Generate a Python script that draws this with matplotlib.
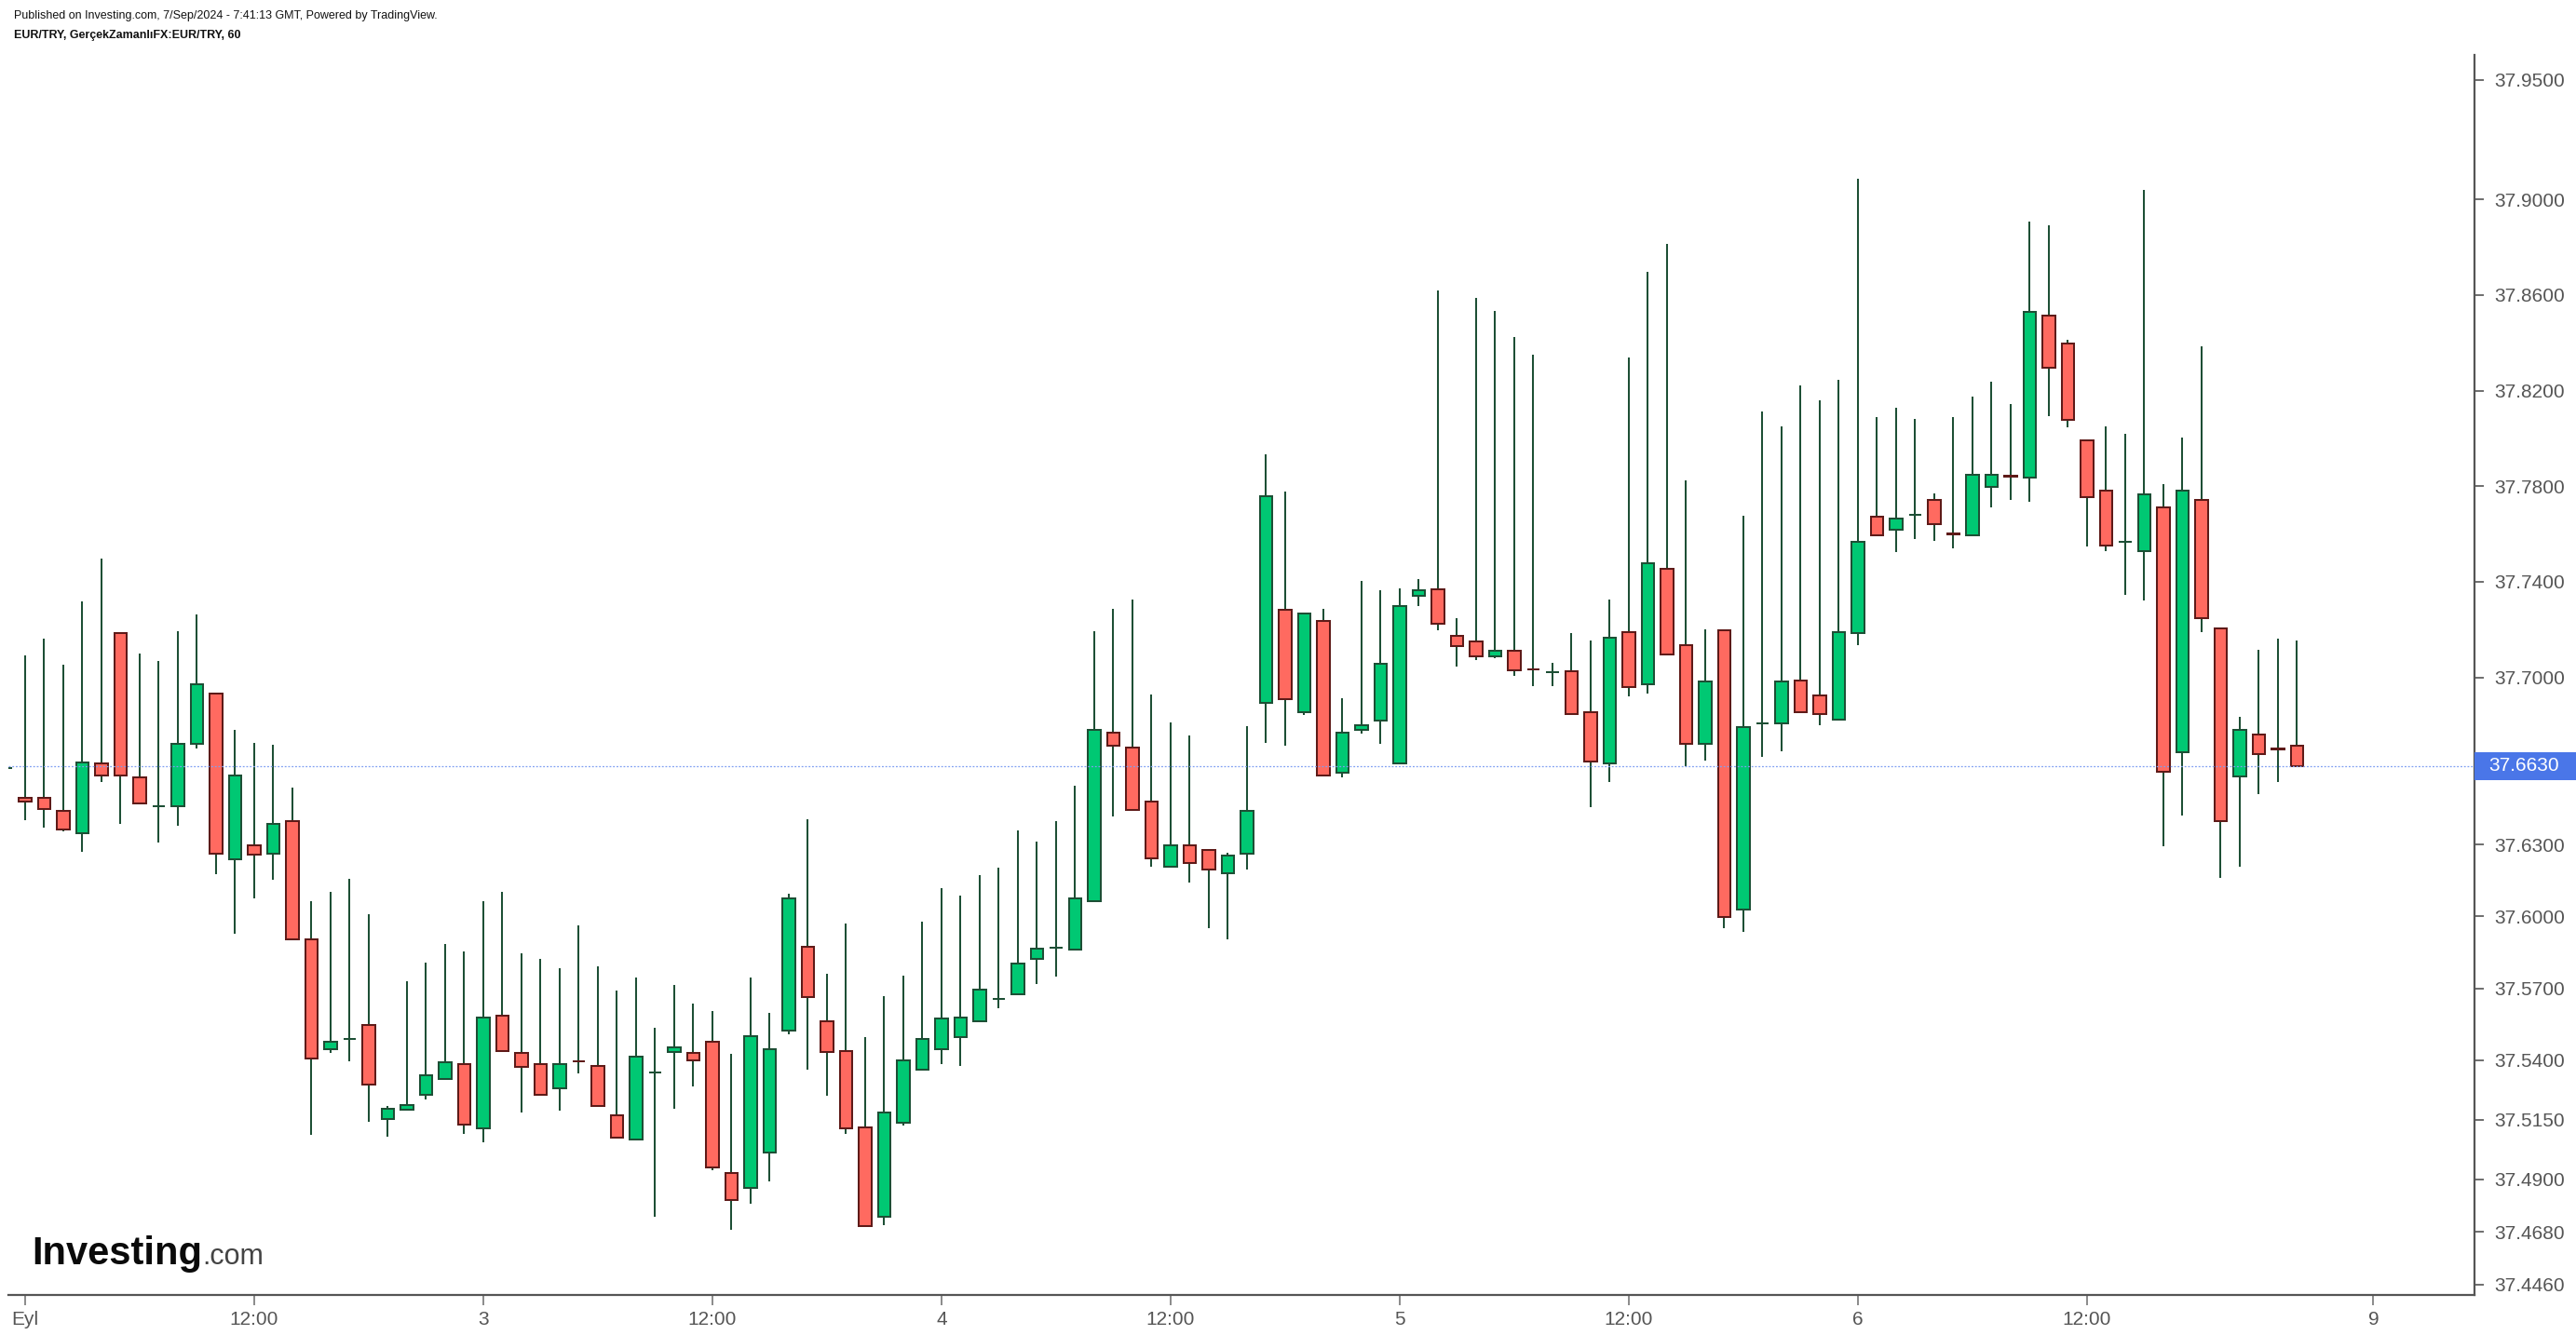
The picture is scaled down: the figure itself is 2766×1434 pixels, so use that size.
import numpy as np
import matplotlib.pyplot as plt
from matplotlib.patches import Rectangle
from matplotlib.transforms import blended_transform_factory

# EUR/TRY hourly candles, 2-6 Sep 2024 (first value is the clipped candle at the left edge)
opens = [
    37.6620,
    37.6496, 37.6496, 37.6442, 37.6350, 37.6639, 37.7184, 37.6582, 37.6463, 37.6463, 37.6722,
    37.6934, 37.6240, 37.6296, 37.6263, 37.6398, 37.5906, 37.5447, 37.5489, 37.5548, 37.5152,
    37.5191, 37.5253, 37.5322, 37.5384, 37.5113, 37.5587, 37.5429, 37.5384, 37.5283, 37.5396,
    37.5375, 37.5167, 37.5066, 37.5346, 37.5432, 37.5429, 37.5477, 37.4926, 37.4863, 37.5012,
    37.5524, 37.5873, 37.5563, 37.5438, 37.5119, 37.4744, 37.5137, 37.5361, 37.5447, 37.5495,
    37.5563, 37.5656, 37.5673, 37.5822, 37.5870, 37.5861, 37.6064, 37.6770, 37.6707, 37.6481,
    37.6210, 37.6296, 37.6278, 37.6180, 37.6263, 37.6895, 37.7283, 37.6856, 37.7238, 37.6600,
    37.6779, 37.6818, 37.6639, 37.7342, 37.7369, 37.7175, 37.7151, 37.7089, 37.7113, 37.7035,
    37.7023, 37.7026, 37.6856, 37.6639, 37.7190, 37.6973, 37.7455, 37.7137, 37.6722, 37.7199,
    37.6028, 37.6809, 37.6809, 37.6988, 37.6925, 37.6824, 37.7184, 37.7673, 37.7619, 37.7679,
    37.7744, 37.7601, 37.7595, 37.7798, 37.7843, 37.7837, 37.8513, 37.8397, 37.7992, 37.7783,
    37.7569, 37.7527, 37.7712, 37.6687, 37.7744, 37.7205, 37.6585, 37.6761, 37.6702, 37.6716,
]
highs = [
    37.6620,
    37.7092, 37.7163, 37.7053, 37.7318, 37.7497, 37.7184, 37.7101, 37.7068, 37.7193, 37.7265,
    37.6934, 37.6782, 37.6725, 37.6719, 37.6541, 37.6064, 37.6103, 37.6159, 37.6010, 37.5209,
    37.5730, 37.5808, 37.5885, 37.5855, 37.6064, 37.6103, 37.5846, 37.5822, 37.5784, 37.5963,
    37.5793, 37.5691, 37.5745, 37.5533, 37.5715, 37.5635, 37.5605, 37.5426, 37.5745, 37.5596,
    37.6097, 37.6407, 37.5760, 37.5971, 37.5495, 37.5668, 37.5754, 37.5977, 37.6117, 37.6088,
    37.6174, 37.6204, 37.6359, 37.6314, 37.6401, 37.6547, 37.7193, 37.7286, 37.7327, 37.6928,
    37.6812, 37.6758, 37.6278, 37.6266, 37.6797, 37.7932, 37.7777, 37.7268, 37.7286, 37.6913,
    37.7405, 37.7366, 37.7372, 37.7411, 37.8618, 37.7247, 37.8588, 37.8534, 37.8424, 37.8352,
    37.7062, 37.7184, 37.7154, 37.7327, 37.8337, 37.8695, 37.8814, 37.7825, 37.7202, 37.7199,
    37.7676, 37.8111, 37.8051, 37.8221, 37.8159, 37.8245, 37.9085, 37.8090, 37.8129, 37.8081,
    37.7768, 37.8090, 37.8174, 37.8236, 37.8144, 37.8907, 37.8892, 37.8412, 37.7992, 37.8051,
    37.8019, 37.9038, 37.7810, 37.8004, 37.8385, 37.7205, 37.6836, 37.7116, 37.7163, 37.7154,
]
lows = [
    37.6620,
    37.6404, 37.6371, 37.6356, 37.6269, 37.6564, 37.6386, 37.6475, 37.6308, 37.6380, 37.6702,
    37.6177, 37.5927, 37.6076, 37.6153, 37.5906, 37.5086, 37.5429, 37.5396, 37.5140, 37.5078,
    37.5191, 37.5235, 37.5322, 37.5092, 37.5054, 37.5438, 37.5179, 37.5253, 37.5188, 37.5343,
    37.5206, 37.5075, 37.5066, 37.4744, 37.5194, 37.5289, 37.4937, 37.4690, 37.4797, 37.4893,
    37.5507, 37.5358, 37.5250, 37.5092, 37.4705, 37.4711, 37.5125, 37.5361, 37.5381, 37.5375,
    37.5563, 37.5617, 37.5673, 37.5718, 37.5748, 37.5861, 37.6064, 37.6418, 37.6445, 37.6210,
    37.6204, 37.6144, 37.5951, 37.5903, 37.6195, 37.6728, 37.6713, 37.6842, 37.6591, 37.6582,
    37.6764, 37.6722, 37.6639, 37.7297, 37.7196, 37.7047, 37.7071, 37.7080, 37.7005, 37.6964,
    37.6964, 37.6848, 37.6457, 37.6564, 37.6919, 37.6931, 37.7098, 37.6627, 37.6651, 37.5951,
    37.5936, 37.6666, 37.6690, 37.6856, 37.6800, 37.6824, 37.7134, 37.7595, 37.7524, 37.7578,
    37.7572, 37.7539, 37.7595, 37.7712, 37.7741, 37.7733, 37.8093, 37.8045, 37.7548, 37.7530,
    37.7345, 37.7321, 37.6293, 37.6424, 37.7190, 37.6162, 37.6207, 37.6511, 37.6564, 37.6630,
]
closes = [
    37.6620,
    37.6481, 37.6451, 37.6365, 37.6645, 37.6591, 37.6591, 37.6475, 37.6463, 37.6722, 37.6973,
    37.6263, 37.6591, 37.6257, 37.6389, 37.5906, 37.5408, 37.5477, 37.5489, 37.5298, 37.5197,
    37.5212, 37.5337, 37.5390, 37.5128, 37.5578, 37.5438, 37.5370, 37.5253, 37.5384, 37.5394,
    37.5206, 37.5075, 37.5414, 37.5346, 37.5453, 37.5399, 37.4949, 37.4815, 37.5501, 37.5447,
    37.6076, 37.5665, 37.5432, 37.5113, 37.4705, 37.5182, 37.5399, 37.5486, 37.5572, 37.5578,
    37.5694, 37.5656, 37.5805, 37.5867, 37.5870, 37.6076, 37.6779, 37.6716, 37.6445, 37.6243,
    37.6296, 37.6225, 37.6195, 37.6255, 37.6442, 37.7759, 37.6910, 37.7268, 37.6591, 37.6770,
    37.6800, 37.7059, 37.7300, 37.7363, 37.7223, 37.7131, 37.7089, 37.7113, 37.7029, 37.7033,
    37.7023, 37.6848, 37.6648, 37.7166, 37.6958, 37.7479, 37.7098, 37.6722, 37.6982, 37.5998,
    37.6794, 37.6809, 37.6982, 37.6856, 37.6848, 37.7190, 37.7566, 37.7595, 37.7664, 37.7679,
    37.7643, 37.7599, 37.7846, 37.7846, 37.7841, 37.8531, 37.8296, 37.8078, 37.7753, 37.7551,
    37.7569, 37.7765, 37.6606, 37.7783, 37.7247, 37.6398, 37.6779, 37.6678, 37.6700, 37.6630,
]

last_price = 37.6630
price_ticks = [37.95, 37.90, 37.86, 37.82, 37.78, 37.74, 37.70, 37.663, 37.63,
               37.60, 37.57, 37.54, 37.515, 37.49, 37.468, 37.446]
time_ticks = [0, 12, 24, 36, 48, 60, 72, 84, 96, 108, 123]
time_labels = ['Eyl', '12:00', '3', '12:00', '4', '12:00', '5', '12:00', '6', '12:00', '9']

UP_FILL, UP_EDGE = '#00c873', '#1d4f35'
DOWN_FILL, DOWN_EDGE = '#ff6a60', '#5e1a18'
WICK = '#1d4f35'


def plot_eurtry():
    plt.rcParams['font.family'] = ['Liberation Sans', 'DejaVu Sans']

    fig = plt.figure(figsize=(27.66, 14.34), dpi=100)
    W, H = 2766, 1434
    ax = fig.add_axes([9 / W, 1 - 1391 / H, (2657 - 9) / W, (1391 - 59) / H])

    o = np.array(opens)
    c = np.array(closes)
    x = np.arange(len(o)) - 1
    up = c >= o

    ax.vlines(x, lows, highs, color=WICK, lw=1.45, zorder=1)
    ax.bar(x[up], (c - o)[up], bottom=o[up], width=0.65,
           color=UP_FILL, edgecolor=UP_EDGE, linewidth=1.45, zorder=2)
    ax.bar(x[~up], (o - c)[~up], bottom=c[~up], width=0.65,
           color=DOWN_FILL, edgecolor=DOWN_EDGE, linewidth=1.45, zorder=2)

    # last price line
    ax.axhline(last_price, color='#7f9ff2', lw=0.9, ls=(0, (1.5, 1.5)), zorder=3)

    ax.set_xlim(-0.878, 128.3)
    ax.set_ylim(37.4417, 37.9604)

    for s in ['left', 'top']:
        ax.spines[s].set_visible(False)
    for s in ['right', 'bottom']:
        ax.spines[s].set_color('#555555')
        ax.spines[s].set_linewidth(1.6)

    ax.yaxis.tick_right()
    ax.set_yticks(price_ticks)
    ax.set_yticklabels(['' if abs(v - last_price) < 1e-6 else f'{v:.4f}' for v in price_ticks])
    ax.set_xticks(time_ticks)
    ax.set_xticklabels(time_labels)
    ax.tick_params(axis='y', direction='out', length=7, width=1.2, color='#555555',
                   pad=8, labelsize=15, labelcolor='#555555')
    ax.tick_params(axis='x', direction='out', length=8, width=1.2, color='#777777',
                   pad=4, labelsize=15, labelcolor='#555555')

    # blue last-price label on the price scale
    tr = blended_transform_factory(fig.transFigure, ax.transData)
    box_h = 30 / 2568
    fig.patches.append(Rectangle((2657 / W, last_price - box_h / 2), 1 - 2657 / W, box_h,
                                 transform=tr, facecolor='#4a76e8', edgecolor='none', zorder=5))
    fig.text(2672 / W, last_price, f'{last_price:.4f}', transform=tr, color='white',
             fontsize=15, va='center', ha='left', zorder=6)

    fig.text(15 / W, 1 - 17 / H, 'Published on Investing.com, 7/Sep/2024 - 7:41:13 GMT, Powered by TradingView.',
             fontsize=9, va='center', ha='left', color='#111111')
    fig.text(15 / W, 1 - 38 / H, 'EUR/TRY, GerçekZamanlıFX:EUR/TRY, 60',
             fontsize=9, fontweight='bold', va='center', ha='left', color='#111111')

    # logo
    t = fig.text(34 / W, 1 - 1358 / H, 'Investing', fontsize=30, fontweight='bold',
                 color='#0a0a0a', va='baseline', ha='left')
    fig.canvas.draw()
    bb = t.get_window_extent()
    fig.text(bb.x1 / W, 1 - 1358 / H, '.com', fontsize=22, color='#444444',
             va='baseline', ha='left')

    fig.savefig('out.png', dpi=100)
    plt.close(fig)


if __name__ == '__main__':
    plot_eurtry()
